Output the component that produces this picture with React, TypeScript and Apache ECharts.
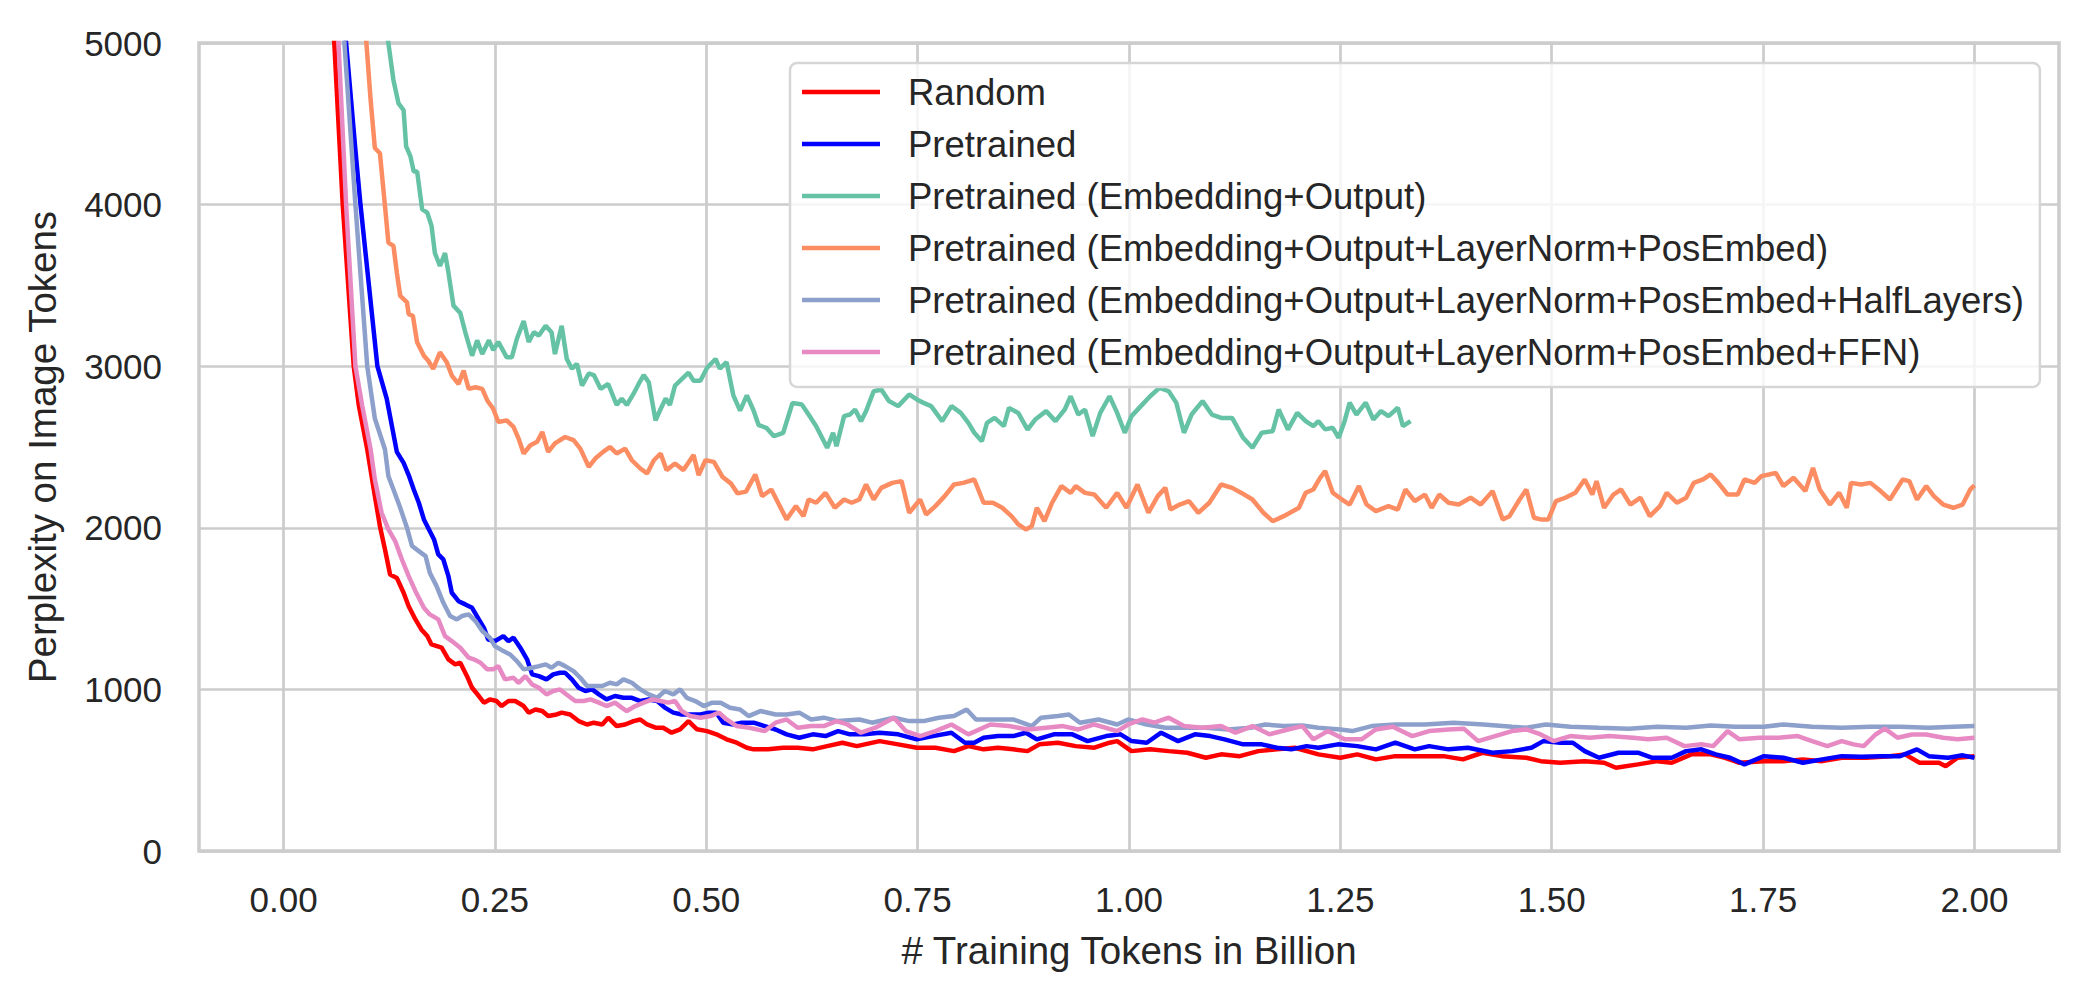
import React, { useEffect, useRef } from "react";
import * as echarts from "echarts";

const seriesNames = [
  "Random",
  "Pretrained",
  "Pretrained (Embedding+Output)",
  "Pretrained (Embedding+Output+LayerNorm+PosEmbed)",
  "Pretrained (Embedding+Output+LayerNorm+PosEmbed+HalfLayers)",
  "Pretrained (Embedding+Output+LayerNorm+PosEmbed+FFN)",
];
const seriesColors = ["#ff0000", "#0000ff", "#66c2a5", "#fc8d62", "#8da0cb", "#e78ac3"];

const xTickValues = [0, 0.25, 0.5, 0.75, 1.0, 1.25, 1.5, 1.75, 2.0];
const yTickValues = [0, 1000, 2000, 3000, 4000, 5000];

const randomData = [
  [0.054,5600],[0.060,5000],[0.070,4000],[0.083,3000],[0.089,2758],[0.099,2485],[0.108,2196],[0.114,2010],[0.120,1866],[0.126,1711],[0.134,1690],[0.142,1598],[0.148,1515],[0.156,1433],[0.163,1371],[0.170,1330],[0.175,1278],[0.187,1258],[0.195,1186],[0.203,1155],[0.209,1165],[0.217,1082],[0.223,1010],[0.231,959],[0.237,918],[0.244,938],[0.252,928],[0.258,897],[0.266,928],[0.274,928],[0.284,897],[0.290,856],[0.298,876],[0.306,866],[0.313,835],[0.323,845],[0.329,856],[0.339,845],[0.349,804],[0.359,783],[0.367,794],[0.377,783],[0.384,825],[0.394,773],[0.404,783],[0.414,804],[0.422,814],[0.430,783],[0.440,763],[0.449,763],[0.459,732],[0.469,753],[0.479,804],[0.489,753],[0.501,742],[0.512,722],[0.524,691],[0.536,670],
  [0.548,639],[0.556,629],[0.573,629],[0.591,639],[0.608,639],[0.626,629],[0.643,649],[0.661,670],[0.678,649],[0.705,680],[0.727,660],[0.749,639],[0.771,639],[0.793,618],[0.810,649],[0.828,629],[0.845,639],[0.863,629],[0.880,618],[0.894,660],[0.916,670],[0.937,649],[0.959,639],[0.977,670],[0.986,680],[1.003,618],[1.025,629],[1.047,618],[1.069,608],[1.091,577],[1.109,598],[1.131,587],[1.153,618],[1.175,629],[1.196,639],
  [1.224,598],[1.250,577],[1.270,598],[1.292,567],[1.315,587],[1.344,587],[1.372,587],[1.395,567],[1.418,608],[1.441,587],[1.470,577],[1.487,556],[1.510,546],[1.539,556],[1.562,546],[1.576,515],[1.602,536],[1.625,556],[1.642,546],[1.665,598],[1.688,598],[1.705,577],[1.722,546],[1.751,556],[1.774,556],[1.797,567],[1.820,556],[1.843,577],[1.872,577],[1.900,587],[1.918,598],[1.935,546],[1.958,546],[1.966,525],[1.980,577],[2.000,587],
];

const pretrainedData = [
  [0.067,5500],[0.074,5000],[0.085,4338],[0.091,4000],[0.111,3000],[0.122,2799],[0.134,2470],[0.142,2402],[0.148,2326],[0.154,2237],[0.160,2155],[0.166,2052],[0.172,1990],[0.178,1928],[0.183,1835],[0.189,1804],[0.195,1701],[0.199,1598],[0.207,1546],[0.215,1526],[0.223,1505],[0.231,1433],[0.237,1381],[0.242,1309],[0.250,1299],[0.260,1330],[0.266,1299],[0.272,1320],[0.280,1258],[0.288,1186],[0.294,1093],[0.302,1082],[0.311,1062],[0.319,1093],[0.327,1103],[0.333,1103],[0.341,1062],[0.349,1010],[0.357,990],[0.365,1000],[0.373,969],[0.382,938],[0.392,959],[0.402,948],[0.412,948],[0.422,928],[0.432,938],[0.442,928],[0.451,887],[0.461,856],[0.471,845],[0.481,845],[0.493,845],[0.503,856],[0.512,856],[0.520,794],[0.532,783],[0.542,794],
  [0.556,794],[0.569,773],[0.582,752],[0.595,722],[0.610,701],[0.626,722],[0.641,711],[0.656,742],[0.670,722],[0.687,722],[0.705,732],[0.727,722],[0.749,691],[0.768,711],[0.790,732],[0.806,670],[0.817,670],[0.828,701],[0.845,711],[0.863,711],[0.878,732],[0.891,691],[0.911,722],[0.933,722],[0.951,680],[0.973,711],[0.990,722],[1.003,680],[1.021,670],[1.038,732],[1.058,680],[1.078,722],[1.096,711],[1.113,691],[1.135,660],[1.157,660],[1.175,639],[1.192,629],[1.210,649],
  [1.224,639],[1.247,660],[1.270,649],[1.292,629],[1.315,670],[1.338,629],[1.355,649],[1.378,629],[1.401,639],[1.430,608],[1.453,618],[1.476,639],[1.490,680],[1.510,670],[1.525,670],[1.539,618],[1.556,577],[1.579,608],[1.602,608],[1.619,577],[1.642,577],[1.659,618],[1.677,629],[1.694,598],[1.711,577],[1.728,536],[1.751,587],[1.774,577],[1.797,546],[1.820,567],[1.843,587],[1.866,583],[1.889,587],[1.912,587],[1.932,629],[1.946,587],[1.969,577],[1.986,592],[2.000,577],
];

const embOutData = [
  [0.118,5230],[0.124,5000],[0.130,4770],[0.136,4626],[0.142,4585],[0.145,4360],[0.150,4300],[0.154,4205],[0.158,4205],[0.164,3970],[0.170,3950],[0.175,3870],[0.179,3700],[0.185,3620],[0.191,3700],[0.195,3580],[0.201,3375],[0.209,3330],[0.215,3210],[0.223,3065],[0.229,3160],[0.235,3075],[0.243,3160],[0.248,3100],[0.254,3150],[0.264,3055],[0.270,3055],[0.276,3170],[0.284,3280],[0.290,3150],[0.296,3210],[0.302,3190],[0.310,3250],[0.317,3210],[0.321,3075],[0.329,3250],[0.335,3045],[0.341,2985],[0.347,3015],[0.353,2880],[0.361,2955],[0.367,2945],[0.375,2860],[0.384,2890],[0.394,2760],[0.400,2800],[0.406,2760],[0.414,2830],[0.420,2890],[0.426,2945],[0.432,2900],[0.440,2665],[0.446,2735],[0.452,2800],[0.457,2760],[0.463,2880],[0.471,2920],[0.479,2960],[0.485,2910],[0.493,2910],[0.501,2990],[0.511,3045],[0.516,2985],[0.524,3025],[0.532,2820],[0.540,2725],[0.548,2820],[0.556,2725],[0.562,2635],
  [0.571,2619],[0.580,2567],[0.591,2588],[0.602,2773],[0.613,2763],[0.621,2701],[0.630,2629],[0.643,2495],[0.650,2588],[0.654,2505],[0.663,2691],[0.670,2701],[0.676,2732],[0.683,2660],[0.689,2722],[0.698,2845],[0.707,2856],[0.716,2784],[0.727,2753],[0.740,2825],[0.749,2794],[0.757,2773],[0.766,2753],[0.779,2660],[0.790,2753],[0.801,2711],[0.810,2649],[0.817,2588],[0.826,2536],[0.832,2649],[0.841,2680],[0.852,2629],[0.858,2742],[0.869,2711],[0.880,2608],[0.889,2670],[0.902,2722],[0.913,2660],[0.924,2732],[0.931,2814],[0.940,2701],[0.948,2732],[0.957,2567],[0.966,2711],[0.977,2814],[0.986,2711],[0.995,2588],[1.003,2691],[1.014,2753],[1.025,2814],[1.036,2866],[1.047,2845],[1.056,2773],[1.065,2588],[1.074,2701],[1.087,2784],[1.098,2701],[1.109,2680],[1.122,2680],[1.135,2557],[1.146,2495],[1.157,2588],[1.170,2598],[1.177,2732],[1.188,2608],[1.199,2711],
  [1.209,2660],[1.218,2629],[1.224,2660],[1.232,2609],[1.241,2619],[1.248,2557],[1.255,2660],[1.261,2774],[1.269,2701],[1.280,2774],[1.289,2670],[1.298,2722],[1.307,2691],[1.318,2743],[1.324,2629],[1.333,2660],
];

const lnPosData = [
  [0.094,5250],[0.098,5000],[0.103,4647],[0.108,4350],[0.114,4318],[0.120,3990],[0.124,3765],[0.130,3745],[0.134,3580],[0.138,3435],[0.146,3395],[0.148,3322],[0.153,3312],[0.158,3148],[0.166,3065],[0.171,3035],[0.177,2984],[0.185,3086],[0.193,3025],[0.199,2942],[0.207,2890],[0.213,2973],[0.219,2860],[0.227,2870],[0.235,2860],[0.241,2788],[0.248,2737],[0.254,2655],[0.264,2665],[0.272,2624],[0.278,2552],[0.284,2460],[0.292,2511],[0.300,2532],[0.306,2593],[0.313,2470],[0.321,2522],[0.333,2562],[0.343,2542],[0.351,2490],[0.361,2378],[0.369,2430],[0.378,2470],[0.386,2500],[0.394,2460],[0.404,2490],[0.412,2418],[0.422,2367],[0.430,2336],[0.438,2418],[0.446,2460],[0.453,2357],[0.463,2398],[0.473,2357],[0.485,2450],[0.491,2326],[0.499,2418],[0.509,2408],[0.519,2316],[0.529,2275],[0.537,2213],[0.547,2224],
  [0.558,2330],[0.566,2196],[0.577,2237],[0.586,2144],[0.595,2052],[0.606,2134],[0.615,2072],[0.621,2175],[0.630,2155],[0.641,2216],[0.652,2124],[0.663,2175],[0.672,2155],[0.681,2175],[0.689,2268],[0.698,2175],[0.707,2247],[0.720,2278],[0.731,2289],[0.740,2093],[0.753,2175],[0.760,2082],[0.771,2134],[0.782,2196],[0.793,2268],[0.804,2278],[0.817,2299],[0.828,2155],[0.839,2155],[0.850,2124],[0.861,2072],[0.869,2021],[0.878,1990],[0.885,2010],[0.891,2124],[0.900,2041],[0.909,2155],[0.920,2258],[0.931,2216],[0.937,2258],[0.948,2216],[0.959,2206],[0.973,2124],[0.986,2216],[0.997,2124],[1.010,2268],[1.023,2093],[1.034,2196],[1.043,2247],[1.049,2113],[1.060,2144],[1.071,2165],[1.082,2093],[1.095,2155],[1.109,2268],[1.122,2247],[1.133,2216],[1.146,2175],[1.159,2093],[1.170,2041],[1.183,2072],
  [1.201,2124],[1.209,2217],[1.218,2237],[1.226,2309],[1.232,2351],[1.241,2217],[1.252,2175],[1.261,2144],[1.272,2258],[1.281,2144],[1.292,2103],[1.307,2134],[1.318,2113],[1.327,2237],[1.338,2165],[1.350,2206],[1.358,2124],[1.367,2206],[1.378,2155],[1.390,2144],[1.404,2186],[1.416,2144],[1.430,2227],[1.442,2052],[1.450,2072],[1.462,2175],[1.470,2237],[1.479,2062],[1.487,2052],[1.496,2052],[1.505,2165],[1.516,2186],[1.528,2217],[1.539,2299],[1.548,2206],[1.553,2289],[1.562,2124],[1.573,2206],[1.582,2237],[1.593,2144],[1.605,2186],[1.616,2072],[1.628,2134],[1.636,2217],[1.648,2155],[1.659,2186],[1.668,2278],[1.679,2299],[1.688,2330],[1.697,2278],[1.708,2206],[1.720,2206],[1.728,2299],[1.740,2278],[1.748,2320],[1.757,2330],[1.765,2340],[1.774,2258],[1.786,2309],[1.800,2227],[1.809,2371],[1.817,2237],[1.829,2144],[1.840,2217],[1.849,2124],[1.854,2278],[1.866,2268],[1.877,2278],[1.889,2227],[1.900,2175],[1.915,2299],[1.923,2289],[1.932,2175],[1.943,2258],[1.952,2196],[1.963,2144],[1.975,2124],[1.986,2144],[1.995,2237],[2.000,2262],
];

const halfLayersData = [
  [0.066,5460],[0.072,5000],[0.085,4000],[0.099,3000],[0.108,2676],[0.120,2485],[0.124,2320],[0.130,2237],[0.138,2124],[0.146,2000],[0.152,1887],[0.160,1856],[0.168,1825],[0.173,1722],[0.181,1639],[0.189,1536],[0.197,1454],[0.205,1433],[0.211,1454],[0.219,1464],[0.227,1423],[0.235,1361],[0.244,1320],[0.250,1268],[0.260,1237],[0.268,1216],[0.276,1175],[0.284,1124],[0.294,1134],[0.302,1144],[0.310,1155],[0.317,1134],[0.325,1165],[0.333,1144],[0.343,1113],[0.351,1072],[0.359,1021],[0.367,1021],[0.377,1021],[0.386,1041],[0.394,1031],[0.402,1062],[0.412,1041],[0.422,1000],[0.432,969],[0.442,948],[0.451,990],[0.461,969],[0.469,1000],[0.477,948],[0.487,928],[0.497,897],[0.507,918],[0.517,918],[0.528,887],[0.540,876],[0.550,835],
  [0.564,866],[0.582,845],[0.595,845],[0.610,856],[0.624,814],[0.639,825],[0.656,804],[0.681,814],[0.696,794],[0.722,825],[0.740,804],[0.757,804],[0.775,825],[0.793,835],[0.808,876],[0.819,814],[0.841,814],[0.863,814],[0.885,773],[0.896,825],[0.916,835],[0.929,845],[0.942,794],[0.964,814],[0.986,783],[0.999,814],[1.021,783],[1.043,763],[1.065,763],[1.091,763],[1.117,752],[1.144,763],[1.161,783],[1.183,773],[1.205,777],
  [1.224,763],[1.250,752],[1.264,742],[1.287,773],[1.315,783],[1.350,783],[1.384,794],[1.419,783],[1.453,769],[1.470,763],[1.493,783],[1.522,769],[1.556,763],[1.591,757],[1.625,769],[1.659,763],[1.688,777],[1.717,769],[1.751,769],[1.774,783],[1.808,769],[1.843,763],[1.877,769],[1.912,769],[1.946,763],[1.975,769],[2.000,773],
];

const ffnData = [
  [0.060,5550],[0.065,5000],[0.074,4000],[0.085,3000],[0.093,2758],[0.103,2485],[0.108,2299],[0.116,2093],[0.124,1990],[0.132,1918],[0.140,1804],[0.148,1701],[0.156,1608],[0.166,1505],[0.173,1464],[0.183,1433],[0.191,1330],[0.199,1299],[0.209,1258],[0.219,1196],[0.225,1186],[0.233,1165],[0.241,1124],[0.248,1124],[0.254,1144],[0.262,1062],[0.272,1072],[0.278,1041],[0.286,1082],[0.294,1031],[0.302,1010],[0.311,969],[0.319,990],[0.327,1000],[0.337,959],[0.345,928],[0.355,928],[0.363,938],[0.373,918],[0.382,897],[0.392,918],[0.400,887],[0.406,866],[0.416,897],[0.426,918],[0.436,938],[0.446,928],[0.455,918],[0.463,928],[0.471,866],[0.481,835],[0.493,825],[0.505,835],[0.515,856],[0.524,814],[0.536,773],
  [0.551,763],[0.569,742],[0.582,794],[0.595,814],[0.608,763],[0.624,773],[0.639,773],[0.654,804],[0.667,783],[0.683,732],[0.700,763],[0.722,825],[0.736,742],[0.753,711],[0.771,742],[0.790,783],[0.810,722],[0.836,783],[0.858,773],[0.880,752],[0.902,763],[0.922,773],[0.940,752],[0.959,783],[0.986,742],[0.999,783],[1.016,814],[1.030,794],[1.047,825],[1.065,773],[1.087,763],[1.109,773],[1.126,732],[1.146,773],[1.166,722],[1.188,752],[1.205,773],
  [1.218,691],[1.235,742],[1.255,691],[1.275,691],[1.292,752],[1.312,769],[1.335,711],[1.355,742],[1.378,752],[1.396,757],[1.413,680],[1.433,711],[1.453,742],[1.470,752],[1.487,721],[1.502,680],[1.522,711],[1.545,701],[1.568,711],[1.596,701],[1.614,691],[1.636,701],[1.657,649],[1.677,660],[1.691,649],[1.708,742],[1.722,691],[1.746,701],[1.768,701],[1.791,711],[1.808,680],[1.826,649],[1.843,680],[1.857,660],[1.869,649],[1.883,721],[1.894,757],[1.909,701],[1.926,721],[1.943,721],[1.963,701],[1.980,691],[2.000,701],
];

const allData = [randomData, pretrainedData, embOutData, lnPosData, halfLayersData, ffnData];

const FONT = "'Liberation Sans', Arial, Helvetica, sans-serif";
const TEXT = "#262626";
const GRIDC = "#cccccc";

export default function App() {
  const ref = useRef<HTMLDivElement>(null);
  useEffect(() => {
    if (!ref.current) return;
    const chart = echarts.init(ref.current, null, { renderer: "svg" });
    const option = {
      animation: false,
      backgroundColor: "#ffffff",
      textStyle: { fontFamily: FONT },
      grid: {
        left: 199,
        right: 29,
        top: 43,
        bottom: 152,
        show: true,
        borderColor: GRIDC,
        borderWidth: 3.5,
        backgroundColor: "transparent",
      },
      legend: {
        orient: "vertical",
        left: 790,
        top: 63,
        data: seriesNames,
        icon: "rect",
        itemWidth: 78,
        itemHeight: 4.5,
        itemGap: 12,
        padding: [9, 16, 15, 12],
        backgroundColor: "rgba(255,255,255,0.8)",
        borderColor: "#d6d6d6",
        borderWidth: 2.5,
        borderRadius: 7,
        textStyle: {
          fontFamily: FONT,
          fontSize: 36.5,
          color: TEXT,
          lineHeight: 40,
          padding: [0, 0, 0, 23],
        },
      },
      xAxis: {
        type: "value",
        min: -0.1,
        max: 2.1,
        name: "# Training Tokens in Billion",
        nameLocation: "middle",
        nameGap: 80,
        nameTextStyle: { fontFamily: FONT, fontSize: 38.5, color: TEXT },
        axisLine: { show: false },
        axisTick: { show: false, customValues: xTickValues },
        axisLabel: {
          customValues: xTickValues,
          fontFamily: FONT,
          fontSize: 35,
          color: TEXT,
          margin: 31,
          formatter: (v: number) => v.toFixed(2),
        },
        splitLine: { show: true, lineStyle: { color: GRIDC, width: 2.7 } },
      },
      yAxis: {
        type: "value",
        min: 0,
        max: 5000,
        interval: 1000,
        name: "Perplexity on Image Tokens",
        nameLocation: "middle",
        nameGap: 137,
        nameRotate: 90,
        nameTextStyle: { fontFamily: FONT, fontSize: 38.5, color: TEXT },
        axisLine: { show: false },
        axisTick: { show: false, customValues: yTickValues },
        axisLabel: {
          customValues: yTickValues,
          fontFamily: FONT,
          fontSize: 35,
          color: TEXT,
          margin: 37,
          formatter: (v: number) => String(v),
        },
        splitLine: { show: true, lineStyle: { color: GRIDC, width: 2.7 } },
      },
      series: seriesNames.map((name, i) => ({
        name,
        type: "line",
        data: allData[i],
        symbol: "none",
        showSymbol: false,
        clip: true,
        color: seriesColors[i],
        lineStyle: { color: seriesColors[i], width: 4.5 },
        itemStyle: { color: seriesColors[i] },
        z: 2 + i * 0.01,
      })),
    };
    chart.setOption(option as any);
    return () => chart.dispose();
  }, []);
  return (
    <div
      ref={ref}
      style={{ position: "fixed", left: 0, top: 0, width: 2088, height: 1003, background: "#fff" }}
    />
  );
}
